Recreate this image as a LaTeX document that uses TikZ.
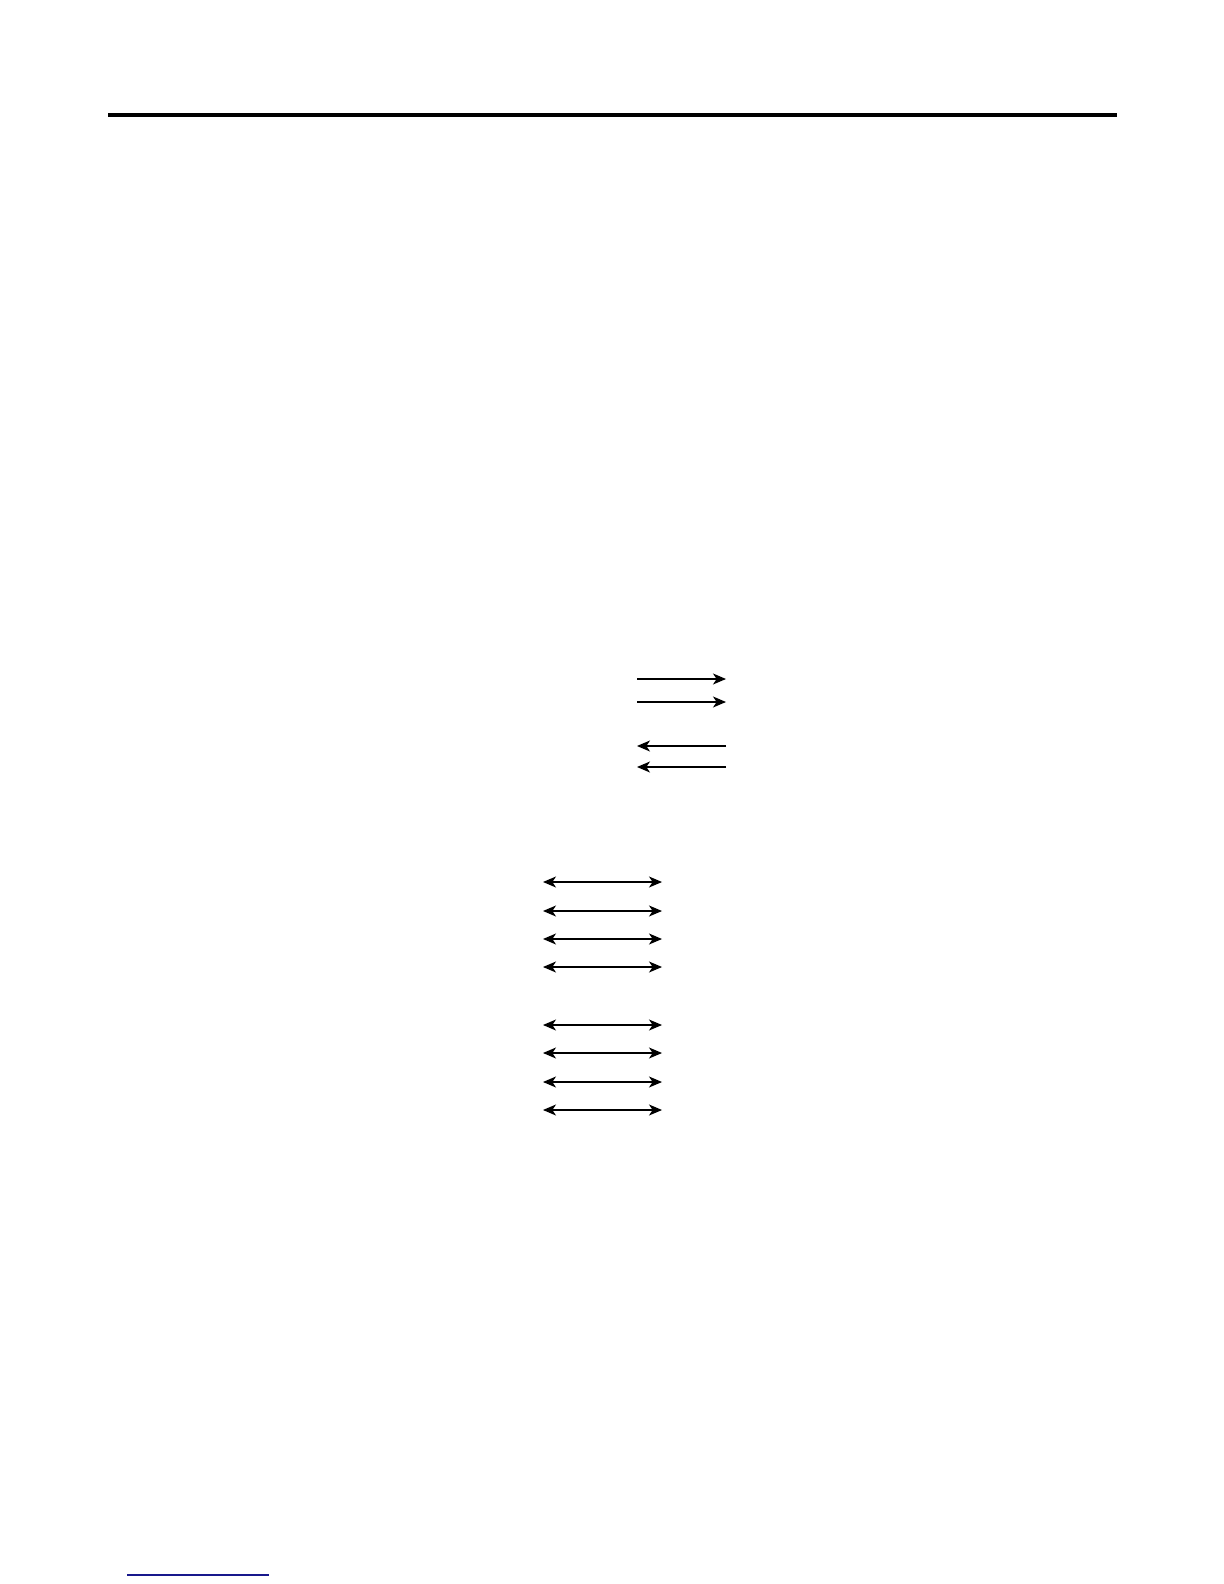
\documentclass[tikz,border=0pt]{standalone}
\usetikzlibrary{arrows.meta}

\definecolor{rulenavy}{RGB}{24,24,140}

\tikzset{
    sig/.style={line width=0.6pt, -{Stealth[length=6.5pt,width=5.5pt,inset=1.8pt]}},
    bus/.style={line width=0.6pt, {Stealth[length=6.5pt,width=5.5pt,inset=1.8pt]}-{Stealth[length=6.5pt,width=5.5pt,inset=1.8pt]}}
}

\begin{document}
\begin{tikzpicture}[x=0.5pt,y=-0.5pt]
            \useasboundingbox (0,0) rectangle (1224,1584);

            % top rule
            \coordinate (ruleL) at (108,115.5);
            \coordinate (ruleR) at (1117,115.5);
            \draw[line width=2pt] (ruleL) -- (ruleR);

            % outgoing and incoming signals
            \coordinate (outAL) at (637,679);  \coordinate (outAR) at (726,679);
            \coordinate (outBL) at (637,702);  \coordinate (outBR) at (726,702);
            \coordinate (inAL) at (637,746);   \coordinate (inAR) at (726,746);
            \coordinate (inBL) at (637,767);   \coordinate (inBR) at (726,767);
            \draw[sig] (outAL) -- (outAR);
            \draw[sig] (outBL) -- (outBR);
            \draw[sig] (inAR) -- (inAL);
            \draw[sig] (inBR) -- (inBL);

            % first group of lines
            \coordinate (busAL) at (543,882);   \coordinate (busAR) at (662,882);
            \coordinate (busBL) at (543,911);   \coordinate (busBR) at (662,911);
            \coordinate (busCL) at (543,939);   \coordinate (busCR) at (662,939);
            \coordinate (busDL) at (543,967);   \coordinate (busDR) at (662,967);
            \draw[bus] (busAL) -- (busAR);
            \draw[bus] (busBL) -- (busBR);
            \draw[bus] (busCL) -- (busCR);
            \draw[bus] (busDL) -- (busDR);

            % second group of lines
            \coordinate (busEL) at (543,1025);  \coordinate (busER) at (662,1025);
            \coordinate (busFL) at (543,1053);  \coordinate (busFR) at (662,1053);
            \coordinate (busGL) at (543,1082);  \coordinate (busGR) at (662,1082);
            \coordinate (busHL) at (543,1110);  \coordinate (busHR) at (662,1110);
            \draw[bus] (busEL) -- (busER);
            \draw[bus] (busFL) -- (busFR);
            \draw[bus] (busGL) -- (busGR);
            \draw[bus] (busHL) -- (busHR);

            % bottom link underline
            \coordinate (linkL) at (127,1575);
            \coordinate (linkR) at (269,1575);
            \draw[rulenavy, line width=0.8pt] (linkL) -- (linkR);
        \end{tikzpicture}
\end{document}
